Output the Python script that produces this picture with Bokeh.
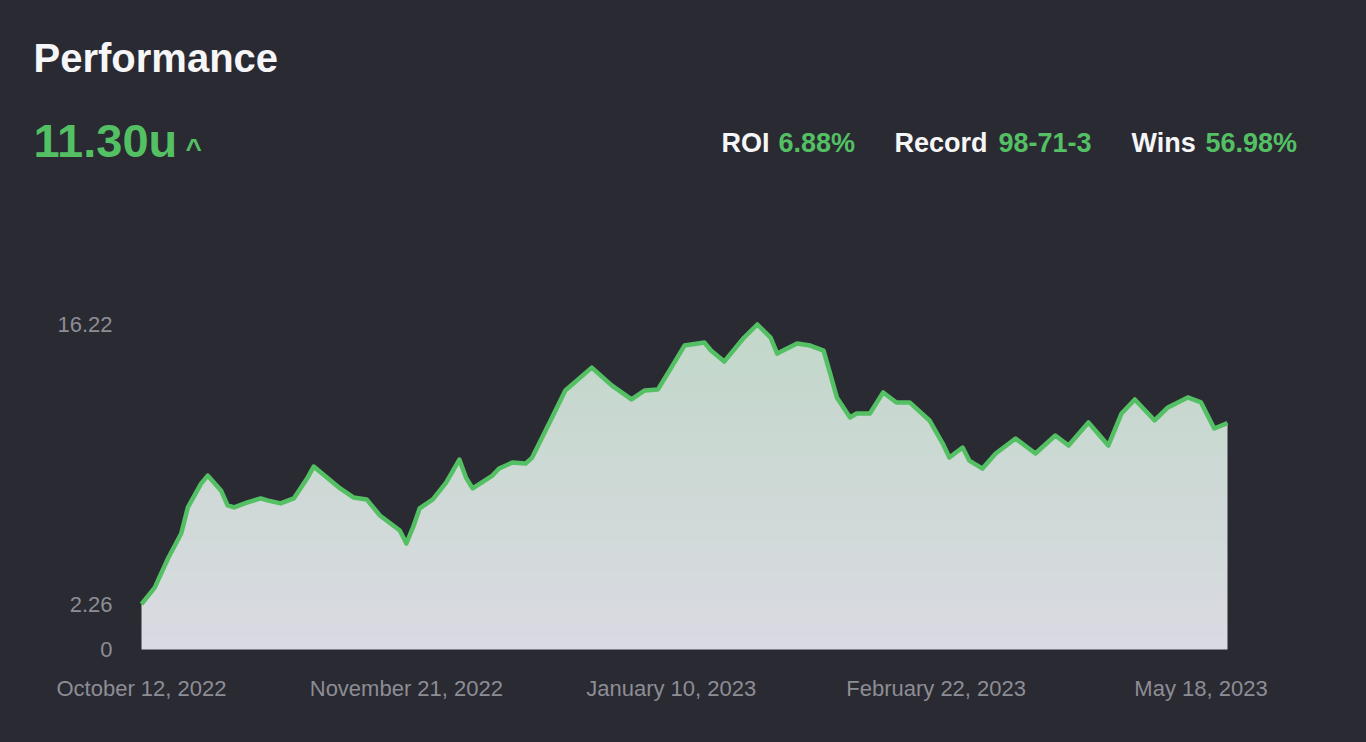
import numpy as np
from bokeh.plotting import figure
from bokeh.models import Range1d, FixedTicker
from bokeh.embed import file_html
from bokeh.resources import INLINE
from bokeh.core.properties import value

# ---------------- data ----------------
bet_index = [0, 2, 4, 6, 7, 9, 10, 12, 13, 14, 16, 18, 19, 21, 23, 25, 26, 28, 30,
             32, 34, 36, 37, 39, 40, 41, 42, 44, 46, 48, 49, 50, 53, 54, 56, 58, 59,
             62, 64, 68, 71, 74, 76, 78, 80, 82, 85, 86, 88, 91, 93, 95, 96, 99, 101,
             103, 104, 105, 107, 108, 110, 112, 114, 116, 119, 121, 122, 124, 125, 127,
             129, 132, 135, 138, 140, 143, 146, 148, 150, 153, 155, 158, 160, 162, 164]
units = [2.26, 3.09, 4.54, 5.79, 7.09, 8.28, 8.68, 7.94, 7.19, 7.09, 7.34, 7.54, 7.44,
         7.29, 7.54, 8.53, 9.13, 8.58, 8.04, 7.59, 7.49, 6.69, 6.44, 5.94, 5.29, 6.09,
         7.04, 7.49, 8.33, 9.48, 8.58, 8.04, 8.68, 9.03, 9.33, 9.28, 9.58, 11.58, 12.93,
         14.07, 13.18, 12.48, 12.93, 12.98, 14.07, 15.17, 15.32, 14.92, 14.37, 15.57,
         16.22, 15.57, 14.77, 15.27, 15.17, 14.92, 13.77, 12.58, 11.58, 11.78, 11.78,
         12.83, 12.33, 12.33, 11.43, 10.28, 9.58, 10.08, 9.43, 9.03, 9.78, 10.53, 9.78,
         10.68, 10.18, 11.33, 10.18, 11.78, 12.48, 11.43, 12.08, 12.58, 12.33, 11.03, 11.30]

x_tick_index = [0, 40, 80, 120, 160]
x_tick_labels = ["October 12, 2022", "November 21, 2022", "January 10, 2023",
                 "February 22, 2023", "May 18, 2023"]
y_tick_values = [0, 2.26, 16.22]
y_tick_labels = ["0", "2.26", "16.22"]

title_text = "Performance"
total_text = "11.30u"
trend_text = "^"
stat_labels = ["ROI", "Record", "Wins"]
stat_values = ["6.88%", "98-71-3", "56.98%"]

# ---------------- style / layout ----------------
BG = "#2a2a32"
GREEN = "#54c064"
WHITE = "#f6f6f8"
GRAY = "#8d8d95"
FONT = value("Liberation Sans")

W, H = 1360, 736
DATA_LEFT, DATA_RIGHT, ZERO_Y = 141, 1227, 649      # page pixels
FRAME_BOTTOM = 670
PX_PER_UNIT = 325.0 / 16.22
PX_PER_BET = (DATA_RIGHT - DATA_LEFT) / float(bet_index[-1] - bet_index[0])

x_start = bet_index[0] - DATA_LEFT / PX_PER_BET
x_end = bet_index[-1] + (W - DATA_RIGHT) / PX_PER_BET
y_start = -(FRAME_BOTTOM - ZERO_Y) / PX_PER_UNIT
y_top = ZERO_Y / PX_PER_UNIT

p = figure(width=W, height=H, x_range=Range1d(x_start, x_end),
           y_range=Range1d(y_start, y_top), output_backend="svg", toolbar_location=None,
           min_border_left=0, min_border_right=0, min_border_top=0,
           min_border_bottom=H - FRAME_BOTTOM, y_axis_location=None)
p.grid.visible = False
p.outline_line_color = None
p.background_fill_color = BG
p.border_fill_color = BG


def px_x(px):
    return x_start + px / PX_PER_BET


def px_y(py):
    return (ZERO_Y - py) / PX_PER_UNIT


# vertical gradient under the curve
rows = 400
top_rgb = np.array([0xc2, 0xd8, 0xca], dtype=float)
bot_rgb = np.array([0xdb, 0xdb, 0xe3], dtype=float)
t = np.linspace(0.0, 1.0, rows)[:, None]
cols = (bot_rgb * (1 - t) + top_rgb * t).astype(np.uint8)
img = np.zeros((rows, 1), dtype=np.uint32)
view = img.view(dtype=np.uint8).reshape((rows, 1, 4))
view[:, 0, 0] = cols[:, 0]
view[:, 0, 1] = cols[:, 1]
view[:, 0, 2] = cols[:, 2]
view[:, 0, 3] = 255
p.image_rgba(image=[img], x=bet_index[0], y=0, dw=bet_index[-1] - bet_index[0],
             dh=max(units))

# mask above the curve (extended a little past both ends)
mask_x = [bet_index[0] - 3] + bet_index + [bet_index[-1] + 3]
mask_y = [units[0]] + units + [units[-1]]
p.varea(x=mask_x, y1=mask_y, y2=y_top + 1, fill_color=BG, fill_alpha=1.0)
p.line(bet_index, units, line_color=GREEN, line_width=4.5, line_join="round",
       line_cap="butt")

# x axis (library axis)
p.xaxis.axis_line_color = None
p.xaxis.major_tick_line_color = None
p.xaxis.minor_tick_line_color = None
p.xaxis.major_tick_out = 0
p.xaxis.major_tick_in = 0
p.xaxis.major_label_text_color = GRAY
p.xaxis.major_label_text_font = "Liberation Sans"
p.xaxis.major_label_text_font_size = "22px"
p.xaxis.ticker = FixedTicker(ticks=x_tick_index)
p.xaxis.major_label_overrides = dict(zip(x_tick_index, x_tick_labels))
p.xaxis.major_label_standoff = 5

# y tick labels, placed by the y scale at their values
p.text(x=[bet_index[0]] * len(y_tick_values), y=y_tick_values, text=y_tick_labels,
       x_offset=-29, text_align="right", text_baseline="middle", text_font=FONT,
       text_font_size="22px", text_color=GRAY)

# header texts (vertically centred on the cap height)
p.text(x=[px_x(33)], y=[px_y(57.5)], text=[title_text], text_font=FONT,
       text_font_size="40px", text_font_style="bold", text_color=WHITE,
       text_baseline="middle", text_align="left")
p.text(x=[px_x(33)], y=[px_y(139.5)], text=[total_text], text_font=FONT,
       text_font_size="47px", text_font_style="bold", text_color=GREEN,
       text_baseline="middle", text_align="left")
p.text(x=[px_x(185)], y=[px_y(148)], text=[trend_text], text_font=FONT,
       text_font_size="28px", text_font_style="bold", text_color=GREEN,
       text_baseline="middle", text_align="left")

label_px = [721, 894, 1131]
value_px = [778, 998, 1205]
p.text(x=[px_x(v) for v in label_px], y=[px_y(142)] * 3, text=stat_labels,
       text_font=FONT, text_font_size="27px", text_font_style="bold",
       text_color=WHITE, text_baseline="middle", text_align="left")
p.text(x=[px_x(v) for v in value_px], y=[px_y(142)] * 3, text=stat_values,
       text_font=FONT, text_font_size="27px", text_font_style="bold",
       text_color=GREEN, text_baseline="middle", text_align="left")

html = file_html(p, INLINE).replace("<body>", '<body style="background-color:%s;">' % BG)
open("out.html", "w").write(html)
